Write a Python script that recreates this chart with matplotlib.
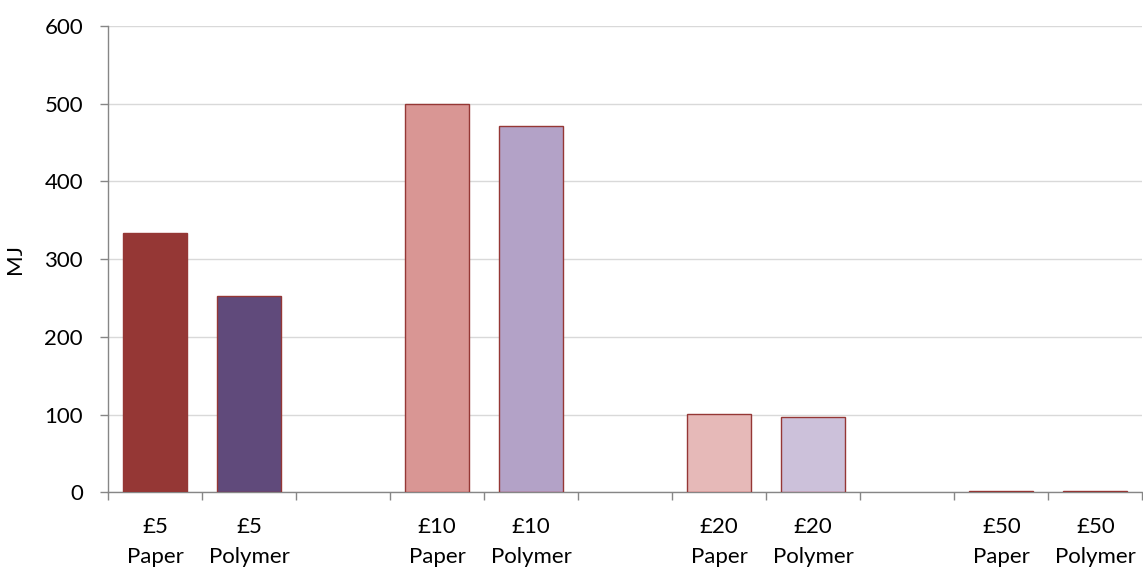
import numpy as np
import matplotlib.pyplot as plt

###############################################################################
# Data (blank slots separate the denominations)
labels = ['£5\nPaper', '£5\nPolymer', '',
          '£10\nPaper', '£10\nPolymer', '',
          '£20\nPaper', '£20\nPolymer', '',
          '£50\nPaper', '£50\nPolymer']
values = [333, 253, 0, 499, 471, 0, 101, 97, 0, 2, 1.5]
colors = ['#953735', '#604A7B', 'none',
          '#D99694', '#B3A2C7', 'none',
          '#E6B9B8', '#CCC1DA', 'none',
          '#F2DCDB', '#E6E0EC']
yticks = [0, 100, 200, 300, 400, 500, 600]

###############################################################################
plt.rcParams['font.family'] = ['Lato', 'DejaVu Sans']

fig = plt.figure(figsize=(11.43, 5.72), dpi=100)
ax = fig.add_axes([0.0945, 0.139, 0.905, 0.816])

x = np.arange(len(values))
for xi, v, c in zip(x, values, colors):
    if c == 'none':
        continue
    ax.bar(xi, v, width=0.68, color=c, edgecolor='#953735', linewidth=1.0, zorder=3)

ax.set_xlim(-0.5, len(values) - 0.5)
ax.set_ylim(0, 600)
ax.set_yticks(yticks)
ax.yaxis.grid(True, color='#D9D9D9', linewidth=1.0, zorder=0)
ax.set_axisbelow(True)

# category labels at bar centres, tick marks at slot boundaries
ax.set_xticks(x)
ax.set_xticklabels(labels, fontsize=16, linespacing=1.6)
ax.tick_params(axis='x', which='major', length=0, pad=18)
ax.set_xticks(np.arange(-0.5, len(values), 1.0), minor=True)
ax.tick_params(axis='x', which='minor', length=6, width=1.0, color='#868686', direction='out')

ax.tick_params(axis='y', labelsize=16, length=6, width=1.0, color='#868686', pad=12)
ax.set_ylabel('MJ', fontsize=16, labelpad=14)

for side in ['top', 'right']:
    ax.spines[side].set_visible(False)
for side in ['left', 'bottom']:
    ax.spines[side].set_color('#868686')
    ax.spines[side].set_linewidth(1.0)

fig.savefig('out.png', dpi=100)
